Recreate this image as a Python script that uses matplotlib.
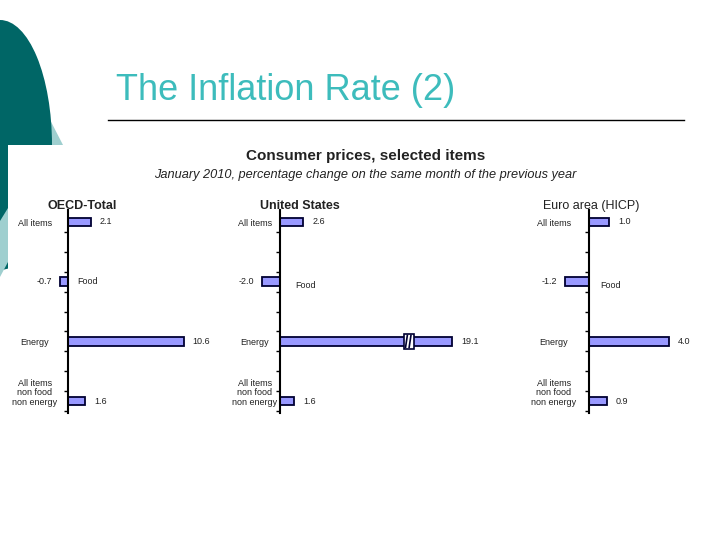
import numpy as np
import matplotlib.pyplot as plt
from matplotlib.patches import Ellipse, Rectangle, Polygon

plt.rcParams['font.family'] = ['Liberation Sans', 'DejaVu Sans']

# data (Jan 2010, % change y/y)
categories = ["All items", "Food", "Energy", "All items\nnon food\nnon energy"]
oecd_values = [2.1, -0.7, 10.6, 1.6]
us_values = [2.6, -2.0, 19.1, 1.6]
euro_values = [1.0, -1.2, 4.0, 0.9]
panel_titles = ["OECD-Total", "United States", "Euro area (HICP)"]

dark = '#006666'
light = '#9fcfcf'
bar_col = '#9999ff'
edge_col = '#000033'
txt_col = '#222222'

fig = plt.figure(figsize=(7.2, 5.4), dpi=100)

# background axes in pixel coords for slide decoration and titles
bg = fig.add_axes([0, 0, 1, 1])
bg.set_xlim(0, 720)
bg.set_ylim(540, 0)
bg.axis('off')

bg.add_patch(Polygon([(46, 112), (63, 145), (40, 145)], color=light, lw=0))
bg.add_patch(Ellipse((0, 145), 104, 250, color=dark, lw=0))
bg.add_patch(Rectangle((8, 145), 712, 400, color='white', lw=0))
bg.add_patch(Polygon([(0, 221), (8, 208), (8, 262), (0, 277)], color=light, lw=0))

bg.text(116, 91, "The Inflation Rate (2)", fontsize=26, color='#3dbcbc',
        ha='left', va='center')
bg.plot([108, 684], [120, 120], color='black', lw=1)
bg.text(366, 156, "Consumer prices, selected items", fontsize=11,
        weight='bold', ha='center', va='center', color=txt_col)
bg.text(365, 175, "January 2010, percentage change on the same month of the previous year",
        fontsize=9.2, style='italic', ha='center', va='center', color=txt_col)

# layout per panel: axes left/right px, x px of zero line, px per unit
layouts = [
    dict(left=10, zero=68, right=230, scale=10.9, tx=82, tw='bold', cat_dx=-33, food_dx=9, food_dy=0),
    dict(left=230, zero=280, right=490, scale=9.0, tx=300, tw='bold', cat_dx=-25, food_dx=15, food_dy=-3),
    dict(left=500, zero=589, right=715, scale=20.0, tx=591, tw='normal', cat_dx=-35, food_dx=11, food_dy=-3),
]
all_values = [oecd_values, us_values, euro_values]

y = np.arange(len(categories))
px = 0.72  # points per pixel

for title, values, lay in zip(panel_titles, all_values, layouts):
    ax = fig.add_axes([lay['left'] / 720, 1 - 413 / 540,
                       (lay['right'] - lay['left']) / 720, 203 / 540])
    ax.patch.set_alpha(0)
    ax.set_xlim((lay['left'] - lay['zero']) / lay['scale'],
                (lay['right'] - lay['zero']) / lay['scale'])
    ax.set_ylim(3.2, -0.2)
    ax.barh(y, values, height=0.14, color=bar_col, edgecolor=edge_col, lw=1.3, zorder=2)

    for s in ['top', 'right', 'bottom']:
        ax.spines[s].set_visible(False)
    ax.spines['left'].set_position(('data', 0))
    ax.spines['left'].set_linewidth(1.5)
    ax.set_xticks([])
    ax.set_yticks(1 / 6 + np.arange(10) / 3)
    ax.set_yticklabels([])
    ax.tick_params(axis='y', length=3, width=1, direction='out')

    for i, (cat, v) in enumerate(zip(categories, values)):
        if v >= 0:
            ax.annotate(f"{v:.1f}", xy=(v, i), xytext=(6.5, 0), textcoords='offset points',
                        ha='left', va='center', fontsize=6.5, color=txt_col)
            if '\n' in cat:
                ax.annotate(cat, xy=(0, i), xytext=(lay['cat_dx'] * px, -4),
                            textcoords='offset points', ha='center', va='bottom',
                            multialignment='center', linespacing=1.05,
                            fontsize=6.5, color=txt_col)
            else:
                ax.annotate(cat, xy=(0, i), xytext=(lay['cat_dx'] * px, -1),
                            textcoords='offset points', ha='center', va='center',
                            fontsize=6.5, color=txt_col)
        else:
            ax.annotate(f"{v:.1f}", xy=(v, i), xytext=(-6, 0), textcoords='offset points',
                        ha='right', va='center', fontsize=6.5, color=txt_col)
            ax.annotate(cat, xy=(0, i), xytext=(lay['food_dx'] * px, lay['food_dy']),
                        textcoords='offset points', ha='left', va='center',
                        fontsize=6.5, color=txt_col)

    if max(values) > 15:
        # axis break symbol on the long energy bar
        bx = 14.3
        ax.add_patch(Rectangle((bx - 0.55, 2 - 0.12), 1.1, 0.24, facecolor='white',
                               edgecolor=edge_col, lw=1.2, zorder=3))
        for d in (-0.25, 0.15):
            ax.plot([bx + d - 0.1, bx + d + 0.1], [2 + 0.1, 2 - 0.1],
                    color=edge_col, lw=1.2, zorder=4)

    bg.text(lay['tx'], 206, title, fontsize=9, weight=lay['tw'],
            ha='center', va='center', color=txt_col, zorder=5)

fig.savefig("out.png", dpi=100)
